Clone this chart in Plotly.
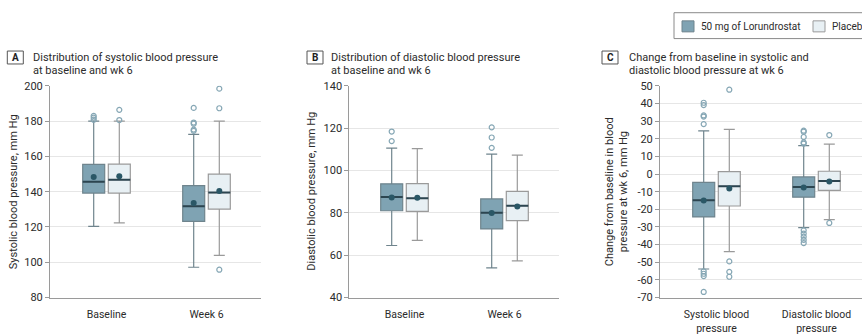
import plotly.graph_objects as go

# ---- data ---------------------------------------------------------------
visits = ["Baseline", "Week 6"]
bp_types = ["Systolic blood<br>pressure", "Diastolic blood<br>pressure"]
groups = ["50 mg of Lorundrostat", "Placebo"]

# Panel A: systolic blood pressure, mm Hg
sbp_drug_q1 = [139.2, 123.2]
sbp_drug_med = [145.7, 131.8]
sbp_drug_q3 = [155.5, 143.5]
sbp_drug_lo = [120.4, 97.2]
sbp_drug_hi = [180.0, 172.5]
sbp_drug_mean = [148.4, 133.6]
sbp_drug_out = [[183.0, 182.0, 180.8], [187.5, 179.2, 178.5, 175.2, 174.5]]

sbp_pbo_q1 = [139.2, 130.1]
sbp_pbo_med = [146.8, 139.5]
sbp_pbo_q3 = [155.6, 150.0]
sbp_pbo_lo = [122.3, 103.9]
sbp_pbo_hi = [180.0, 180.0]
sbp_pbo_mean = [148.7, 140.4]
sbp_pbo_out = [[186.4, 180.6], [198.4, 187.3, 95.8]]

# Panel B: diastolic blood pressure, mm Hg
dbp_drug_q1 = [81.0, 72.4]
dbp_drug_med = [87.5, 80.1]
dbp_drug_q3 = [93.7, 86.6]
dbp_drug_lo = [64.6, 54.0]
dbp_drug_hi = [110.6, 107.7]
dbp_drug_mean = [87.3, 80.0]
dbp_drug_out = [[118.4, 113.9], [120.4, 115.6, 110.7]]

dbp_pbo_q1 = [80.7, 76.3]
dbp_pbo_med = [86.9, 83.4]
dbp_pbo_q3 = [93.8, 90.2]
dbp_pbo_lo = [67.0, 57.3]
dbp_pbo_hi = [110.3, 107.3]
dbp_pbo_mean = [87.2, 83.0]
dbp_pbo_out = [[], []]

# Panel C: change from baseline at wk 6, mm Hg
chg_drug_q1 = [-24.3, -13.1]
chg_drug_med = [-14.9, -7.4]
chg_drug_q3 = [-4.7, -1.6]
chg_drug_lo = [-53.8, -30.4]
chg_drug_hi = [24.5, 16.1]
chg_drug_mean = [-15.0, -7.6]
chg_drug_out = [[40.4, 39.1, 33.2, 32.6, 28.3, -55.1, -56.5, -57.8, -66.8],
                [24.6, 24.0, 21.0, 17.9, 17.3, -31.9, -33.7, -35.5, -37.3, -39.1]]

chg_pbo_q1 = [-18.1, -9.2]
chg_pbo_med = [-6.9, -4.0]
chg_pbo_q3 = [1.4, 1.6]
chg_pbo_lo = [-43.9, -25.8]
chg_pbo_hi = [25.3, 17.0]
chg_pbo_mean = [-8.2, -4.2]
chg_pbo_out = [[47.8, -49.5, -55.4, -58.2], [22.1, -27.7]]

sbp_ticks = [80, 100, 120, 140, 160, 180, 200]
dbp_ticks = [40, 60, 80, 100, 120, 140]
chg_ticks = [-70, -60, -50, -40, -30, -20, -10, 0, 10, 20, 30, 40, 50]

# ---- style --------------------------------------------------------------
W, H = 862, 335
FONT = "Roboto, Liberation Sans, sans-serif"
TXT = "#2b2b2b"
DRUG_FILL = "#7fa3b3"
PBO_FILL = "#e8f0f4"
DRUG_LINE = "#6f848d"
PBO_LINE = "#9a9a9a"
MED_COLOR = "#2c4550"
MEAN_COLOR = "#2a5766"
OUT_COLOR = "#86a7b5"
GRID = "#e6e6e6"
AXLINE = "#9a9a9a"

BOX_W = 0.22
OFFSET = 0.128


def px(x):
    return x / W


def py(y):
    return 1 - y / H


fig = go.Figure()

panels = [
    ("x", "y", [
        (sbp_drug_q1, sbp_drug_med, sbp_drug_q3, sbp_drug_lo, sbp_drug_hi, sbp_drug_mean, sbp_drug_out),
        (sbp_pbo_q1, sbp_pbo_med, sbp_pbo_q3, sbp_pbo_lo, sbp_pbo_hi, sbp_pbo_mean, sbp_pbo_out),
    ]),
    ("x2", "y2", [
        (dbp_drug_q1, dbp_drug_med, dbp_drug_q3, dbp_drug_lo, dbp_drug_hi, dbp_drug_mean, dbp_drug_out),
        (dbp_pbo_q1, dbp_pbo_med, dbp_pbo_q3, dbp_pbo_lo, dbp_pbo_hi, dbp_pbo_mean, dbp_pbo_out),
    ]),
    ("x3", "y3", [
        (chg_drug_q1, chg_drug_med, chg_drug_q3, chg_drug_lo, chg_drug_hi, chg_drug_mean, chg_drug_out),
        (chg_pbo_q1, chg_pbo_med, chg_pbo_q3, chg_pbo_lo, chg_pbo_hi, chg_pbo_mean, chg_pbo_out),
    ]),
]

fills = [DRUG_FILL, PBO_FILL]
lines = [DRUG_LINE, PBO_LINE]
shifts = [-OFFSET, OFFSET]

for xa, ya, series in panels:
    for g, (q1, med, q3, lo, hi, mean, outs) in enumerate(series):
        pos = [i + shifts[g] for i in range(len(q1))]
        fig.add_trace(go.Box(
            x=pos, q1=q1, median=med, q3=q3, lowerfence=lo, upperfence=hi,
            width=BOX_W, whiskerwidth=0.5, fillcolor=fills[g],
            line=dict(color=lines[g], width=1.2), boxpoints=False,
            name=groups[g], showlegend=False, hoverinfo="skip",
            xaxis=xa, yaxis=ya,
        ))
        # darker median bar across each box
        mx, my = [], []
        for p, m in zip(pos, med):
            mx += [p - BOX_W / 2, p + BOX_W / 2, None]
            my += [m, m, None]
        fig.add_trace(go.Scatter(
            x=mx, y=my, mode="lines", line=dict(color=MED_COLOR, width=2),
            showlegend=False, hoverinfo="skip", xaxis=xa, yaxis=ya,
        ))
        # outliers
        ox, oy = [], []
        for p, vals in zip(pos, outs):
            ox += [p] * len(vals)
            oy += vals
        fig.add_trace(go.Scatter(
            x=ox, y=oy, mode="markers",
            marker=dict(symbol="circle-open", size=5, color=OUT_COLOR,
                        line=dict(width=1.2, color=OUT_COLOR)),
            showlegend=False, hoverinfo="skip", xaxis=xa, yaxis=ya,
        ))
        # means
        fig.add_trace(go.Scatter(
            x=pos, y=mean, mode="markers",
            marker=dict(symbol="circle", size=6, color=MEAN_COLOR),
            showlegend=False, hoverinfo="skip", xaxis=xa, yaxis=ya,
        ))

ydom = [py(304.3), py(83.3)]
tickfont = dict(family=FONT, size=11, color=TXT)


def xaxis(dom, rng, labels):
    return dict(domain=dom, range=rng, tickvals=list(range(len(labels))),
                ticktext=labels, showgrid=False, zeroline=False,
                showline=True, linecolor=AXLINE, linewidth=1, ticks="",
                ticklabelstandoff=7,
                tickfont=dict(family=FONT, size=10.5, color=TXT), fixedrange=True)


def yaxis(anchor, rng, ticks):
    return dict(domain=ydom, range=rng, tickvals=ticks,
                ticktext=[str(t) for t in ticks],
                showgrid=True, gridcolor=GRID, gridwidth=1, zeroline=False,
                showline=True, linecolor=AXLINE, linewidth=1,
                ticks="outside", ticklen=4, tickcolor=AXLINE,
                tickfont=tickfont, anchor=anchor, fixedrange=True)


fig.update_layout(
    width=W, height=H,
    margin=dict(l=0, r=0, t=0, b=0),
    paper_bgcolor="white", plot_bgcolor="white",
    boxmode="overlay", showlegend=False,
    font=dict(family=FONT, color=TXT),
    xaxis=xaxis([px(50), px(261.3)], [-0.565, 1.548], visits) | dict(anchor="y"),
    yaxis=yaxis("x", [80, 200], sbp_ticks),
    xaxis2=xaxis([px(349.3), px(559.3)], [-0.552, 1.548], visits) | dict(anchor="y2"),
    yaxis2=yaxis("x2", [40, 140], dbp_ticks),
    xaxis3=xaxis([px(660), 1.0], [-0.565, 1.455], bp_types) | dict(anchor="y3"),
    yaxis3=yaxis("x3", [-70, 50], chg_ticks),
)

shapes = []
annotations = []

# panel headings with boxed letter
headings = [
    ("A", 7.3, 31, ["Distribution of systolic blood pressure", "at baseline and wk 6"]),
    ("B", 307, 329, ["Distribution of diastolic blood pressure", "at baseline and wk 6"]),
    ("C", 602, 627, ["Change from baseline in systolic and", "diastolic blood pressure at wk 6"]),
]
for letter, bx, tx, lines_txt in headings:
    shapes.append(dict(type="rect", xref="paper", yref="paper",
                       x0=px(bx), x1=px(bx + 16), y0=py(60.5), y1=py(47),
                       line=dict(color="#555555", width=1), fillcolor="white"))
    annotations.append(dict(x=px(bx + 8), y=py(53.8), xref="paper", yref="paper",
                            text="<b>%s</b>" % letter, showarrow=False,
                            xanchor="center", yanchor="middle",
                            font=dict(family=FONT, size=10, color="#222")))
    for k, line_txt in enumerate(lines_txt):
        annotations.append(dict(x=px(tx), y=py(54 + 12.8 * k), xref="paper", yref="paper",
                                text=line_txt, showarrow=False,
                                xanchor="left", yanchor="middle",
                                font=dict(family=FONT, size=11, color=TXT)))

# axis titles
ytitles = [
    (13.5, "Systolic blood pressure, mm Hg"),
    (312, "Diastolic blood pressure, mm Hg"),
    (609.5, "Change from baseline in blood"),
    (623.5, "pressure at wk 6, mm Hg"),
]
for x_pix, t in ytitles:
    annotations.append(dict(x=px(x_pix), y=py(193.8), xref="paper", yref="paper",
                            text=t, showarrow=False, textangle=-90,
                            xanchor="center", yanchor="middle",
                            font=dict(family=FONT, size=11, color=TXT)))

# legend frame and keys
shapes.append(dict(type="rect", xref="paper", yref="paper",
                   x0=px(674), x1=px(900), y0=py(34), y1=py(7),
                   line=dict(color="#8a8a8a", width=1), fillcolor="white"))
keys = [(682, DRUG_FILL, DRUG_LINE, groups[0]), (813, PBO_FILL, PBO_LINE, groups[1])]
for kx, fc, lc, label in keys:
    shapes.append(dict(type="rect", xref="paper", yref="paper",
                       x0=px(kx), x1=px(kx + 12), y0=py(27), y1=py(15.5),
                       line=dict(color=lc, width=1), fillcolor=fc))
    annotations.append(dict(x=px(kx + 17), y=py(21.3), xref="paper", yref="paper",
                            text=label, showarrow=False, xanchor="left", yanchor="middle",
                            font=dict(family=FONT, size=10, color=TXT)))

fig.update_layout(shapes=shapes, annotations=annotations)

fig.write_html("out.html", config={"displayModeBar": False})
